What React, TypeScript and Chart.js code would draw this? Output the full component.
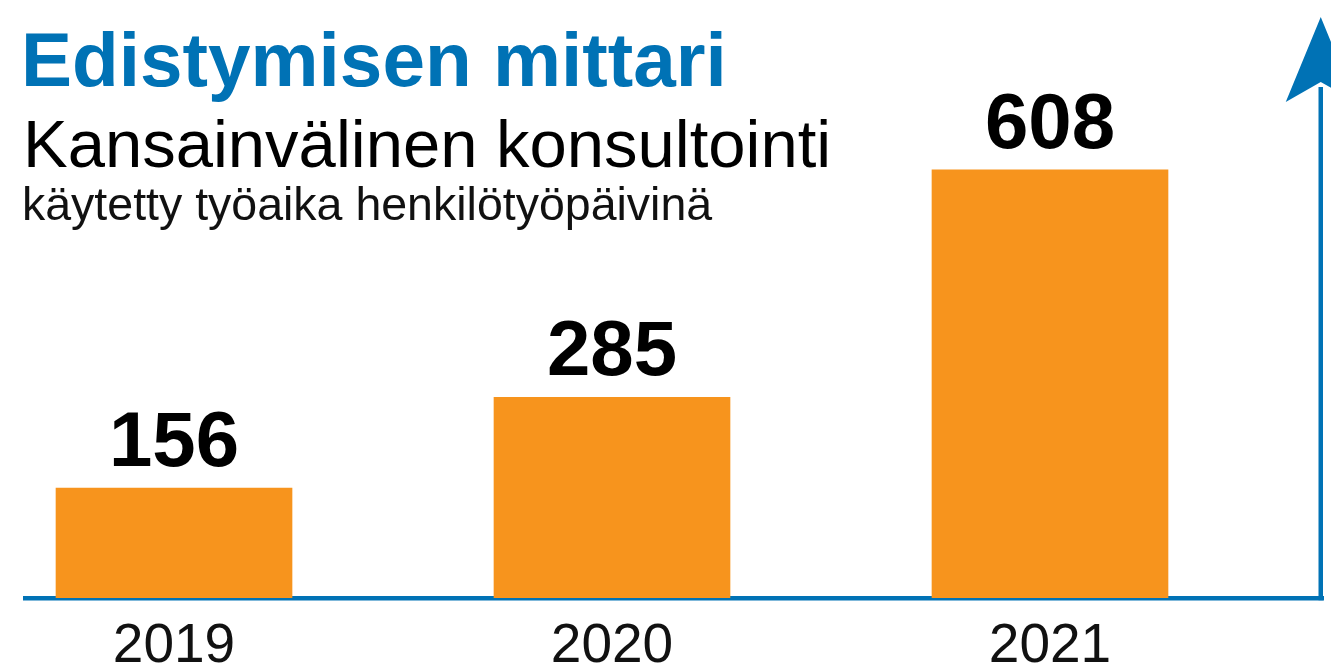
import React, { useEffect, useRef } from "react";
import { Chart, registerables } from "chart.js";

Chart.register(...registerables);

const titleText = "Edistymisen mittari";
const subtitleText = "Kansainvälinen konsultointi";
const unitText = "käytetty työaika henkilötyöpäivinä";
const categories = ["2019", "2020", "2021"];
const values = [156, 285, 608];

const BLUE = "#0072b5";
const ORANGE = "#f7941d";
const FONT = "'Liberation Sans', Arial, Helvetica, sans-serif";

export default function App() {
  const ref = useRef<HTMLCanvasElement | null>(null);

  useEffect(() => {
    const canvas = ref.current;
    if (!canvas) return;

    const arrowAxis = {
      id: "arrowAxis",
      afterDraw(chart: any) {
        const { ctx, chartArea } = chart;
        const cx = chartArea.right - 2.25;
        const y0 = chart.scales.y.getPixelForValue(0);
        const top = chartArea.top;
        ctx.save();
        ctx.strokeStyle = BLUE;
        ctx.lineWidth = 4.5;
        ctx.beginPath();
        ctx.moveTo(cx, y0 + 2.25);
        ctx.lineTo(cx, top + 70);
        ctx.stroke();
        ctx.fillStyle = BLUE;
        ctx.beginPath();
        ctx.moveTo(cx, top);
        ctx.lineTo(cx - 35, top + 85);
        ctx.lineTo(cx, top + 65);
        ctx.lineTo(cx + 35, top + 85);
        ctx.closePath();
        ctx.fill();
        ctx.restore();
      },
    };

    const valueLabels = {
      id: "valueLabels",
      afterDatasetsDraw(chart: any) {
        const { ctx } = chart;
        const meta = chart.getDatasetMeta(0);
        ctx.save();
        ctx.fillStyle = "#000";
        ctx.font = `bold 78px ${FONT}`;
        ctx.textAlign = "center";
        ctx.textBaseline = "alphabetic";
        meta.data.forEach((bar: any, i: number) => {
          ctx.fillText(String(values[i]), bar.x, bar.y - 22);
        });
        ctx.restore();
      },
    };

    const chart = new Chart(canvas, {
      type: "bar",
      data: {
        datasets: [
          {
            data: categories.map((c, i) => ({ x: Number(c), y: values[i] })),
            backgroundColor: ORANGE,
            borderWidth: 0,
            barThickness: 236,
          },
        ],
      },
      options: {
        responsive: false,
        animation: false,
        devicePixelRatio: 1,
        layout: { padding: { left: 25, right: 8, top: 17, bottom: 0 } },
        plugins: {
          legend: { display: false },
          tooltip: { enabled: false },
        },
        scales: {
          x: {
            type: "linear",
            offset: false,
            bounds: "data",
            min: 2018.6598,
            max: 2021.6233,
            z: 1,
            afterBuildTicks: (scale: any) => {
              scale.ticks = categories.map((c) => ({ value: Number(c) }));
            },
            ticks: {
              callback: (_v: any, i: number) => categories[i],
              autoSkip: false,
              maxRotation: 0,
              padding: 3,
              color: "#111",
              font: { family: FONT, size: 55, lineHeight: 38 / 55 },
            },
            grid: {
              display: true,
              offset: false,
              drawOnChartArea: false,
              drawTicks: true,
              tickLength: 27,
              color: "rgba(0,0,0,0)",
            },
            border: { display: true, color: BLUE, width: 4.5 },
          },
          y: {
            display: false,
            min: 0,
            max: 825,
          },
        },
      },
      plugins: [valueLabels, arrowAxis],
    } as any);

    return () => chart.destroy();
  }, []);

  const textBase: React.CSSProperties = {
    position: "absolute",
    margin: 0,
    lineHeight: 1,
    whiteSpace: "nowrap",
    fontFamily: FONT,
  };

  return (
    <div
      style={{
        position: "fixed",
        left: 0,
        top: 0,
        width: 1331,
        height: 669,
        background: "#fff",
        overflow: "hidden",
      }}
    >
      <canvas ref={ref} width={1331} height={669} style={{ display: "block" }} />
      <div
        style={{
          ...textBase,
          left: 21,
          top: 22,
          fontSize: 76.5,
          fontWeight: 700,
          color: BLUE,
        }}
      >
        {titleText}
      </div>
      <div style={{ ...textBase, left: 23, top: 110, fontSize: 67, color: "#000" }}>
        {subtitleText}
      </div>
      <div style={{ ...textBase, left: 22, top: 181, fontSize: 46.5, color: "#111" }}>
        {unitText}
      </div>
    </div>
  );
}
